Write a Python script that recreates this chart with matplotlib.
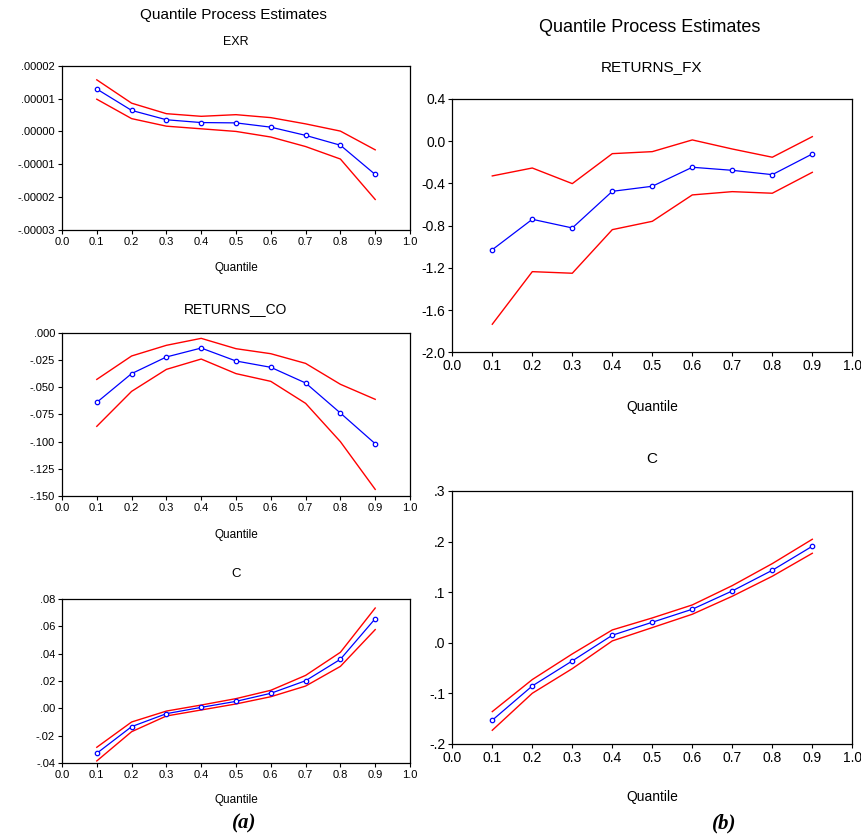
import matplotlib
matplotlib.use('Agg')
import matplotlib.pyplot as plt
from matplotlib.ticker import FuncFormatter

plt.rcParams['font.family'] = ['Liberation Sans', 'DejaVu Sans']

quantiles = [0.1, 0.2, 0.3, 0.4, 0.5, 0.6, 0.7, 0.8, 0.9]

# panel (a): EXR coefficient
exr_est = [1.29e-5, 0.64e-5, 0.355e-5, 0.27e-5, 0.26e-5, 0.13e-5, -0.12e-5, -0.42e-5, -1.31e-5]
exr_up = [1.57e-5, 0.86e-5, 0.54e-5, 0.46e-5, 0.51e-5, 0.42e-5, 0.23e-5, 0.01e-5, -0.56e-5]
exr_lo = [0.98e-5, 0.39e-5, 0.16e-5, 0.08e-5, 0.0, -0.17e-5, -0.46e-5, -0.84e-5, -2.07e-5]

# panel (a): RETURNS__CO coefficient
co_est = [-0.064, -0.0376, -0.0223, -0.0141, -0.026, -0.0318, -0.0462, -0.0738, -0.102]
co_up = [-0.0429, -0.0214, -0.0116, -0.0052, -0.0147, -0.0193, -0.0282, -0.0474, -0.0612]
co_lo = [-0.086, -0.0539, -0.0337, -0.0242, -0.0376, -0.0447, -0.0649, -0.1001, -0.1439]

# panel (a): constant
ca_est = [-0.0329, -0.0134, -0.0039, 0.0007, 0.0051, 0.011, 0.0202, 0.0359, 0.0656]
ca_up = [-0.0285, -0.010, -0.002, 0.0024, 0.0071, 0.0132, 0.0241, 0.041, 0.0734]
ca_lo = [-0.0385, -0.0171, -0.0056, -0.0012, 0.0032, 0.0085, 0.0163, 0.0307, 0.0576]

# panel (b): RETURNS_FX coefficient
fx_est = [-1.028, -0.74, -0.822, -0.475, -0.427, -0.247, -0.276, -0.317, -0.121]
fx_up = [-0.329, -0.254, -0.402, -0.118, -0.099, 0.012, -0.074, -0.152, 0.043]
fx_lo = [-1.734, -1.236, -1.251, -0.838, -0.759, -0.509, -0.478, -0.493, -0.295]

# panel (b): constant
cb_est = [-0.153, -0.0853, -0.0358, 0.0149, 0.0406, 0.0663, 0.1025, 0.1433, 0.1908]
cb_up = [-0.136, -0.0727, -0.022, 0.0254, 0.0491, 0.0748, 0.113, 0.1565, 0.2046]
cb_lo = [-0.1729, -0.0998, -0.0511, 0.0037, 0.030, 0.0564, 0.092, 0.1315, 0.1769]

x_ticks = [0.0, 0.1, 0.2, 0.3, 0.4, 0.5, 0.6, 0.7, 0.8, 0.9, 1.0]


def no_lead_zero(decimals):
    def fmt(v, pos):
        s = f'{v:.{decimals}f}'
        if s.startswith('-0.'):
            s = '-' + s[2:]
        elif s.startswith('0.'):
            s = s[1:]
        return s
    return FuncFormatter(fmt)


def draw(ax, est, up, lo, ylim, yticks, yfmt, fs):
    ax.plot(quantiles, up, color='#ff0000', lw=1.0)
    ax.plot(quantiles, lo, color='#ff0000', lw=1.0)
    ax.plot(quantiles, est, color='#0000ff', lw=0.9, marker='o', ms=3.2,
            mfc='white', mec='#0000ff', mew=0.9)
    ax.set_xlim(0, 1)
    ax.set_ylim(*ylim)
    ax.set_xticks(x_ticks)
    ax.xaxis.set_major_formatter(FuncFormatter(lambda v, p: f'{v:.1f}'))
    ax.set_yticks(yticks)
    ax.yaxis.set_major_formatter(yfmt)
    ax.tick_params(direction='out', length=3, width=0.8, labelsize=fs, pad=2,
                   colors='black', top=False, right=False)
    for s in ax.spines.values():
        s.set_linewidth(0.9)


fig = plt.figure(figsize=(8.61, 8.38), dpi=100)

ax1 = fig.add_axes([0.0720, 0.7255, 0.4042, 0.1961])
draw(ax1, exr_est, exr_up, exr_lo, (-3e-5, 2e-5),
     [-3e-5, -2e-5, -1e-5, 0, 1e-5, 2e-5], no_lead_zero(5), 8)

ax2 = fig.add_axes([0.0720, 0.4081, 0.4042, 0.1949])
draw(ax2, co_est, co_up, co_lo, (-0.150, 0.0),
     [-0.150, -0.125, -0.100, -0.075, -0.050, -0.025, 0.0], no_lead_zero(3), 8)

ax3 = fig.add_axes([0.0720, 0.0895, 0.4042, 0.1957])
draw(ax3, ca_est, ca_up, ca_lo, (-0.04, 0.08),
     [-0.04, -0.02, 0.0, 0.02, 0.04, 0.06, 0.08], no_lead_zero(2), 8)

ax4 = fig.add_axes([0.5253, 0.5796, 0.4646, 0.3023])
draw(ax4, fx_est, fx_up, fx_lo, (-2.0, 0.4),
     [-2.0, -1.6, -1.2, -0.8, -0.4, 0.0, 0.4],
     FuncFormatter(lambda v, p: f'{v:.1f}'), 10)

ax5 = fig.add_axes([0.5253, 0.1122, 0.4646, 0.3019])
draw(ax5, cb_est, cb_up, cb_lo, (-0.2, 0.3),
     [-0.2, -0.1, 0.0, 0.1, 0.2, 0.3], no_lead_zero(1), 10)

W, H = 861, 838


def put(x, y, s, size, **kw):
    fig.text(x / W, 1 - y / H, s, ha='center', va='center', fontsize=size, **kw)


put(233, 15, 'Quantile Process Estimates', 11)
put(236, 42, 'EXR', 9)
put(236, 268, 'Quantile', 8.5)
put(236, 309, 'RETURNS__CO', 10)
put(236, 535, 'Quantile', 8.5)
put(236, 574, 'C', 9.5)
put(236, 800, 'Quantile', 8.5)

put(650, 27, 'Quantile Process Estimates', 13)
put(652, 67, 'RETURNS_FX', 11)
put(652, 407, 'Quantile', 10)
put(652, 459, 'C', 11)
put(652, 797, 'Quantile', 10)

put(244, 823, '(a)', 15, family='Liberation Serif', weight='bold', style='italic')
put(724, 823, '(b)', 15, family='Liberation Serif', weight='bold', style='italic')

fig.savefig('out.png', dpi=100)
